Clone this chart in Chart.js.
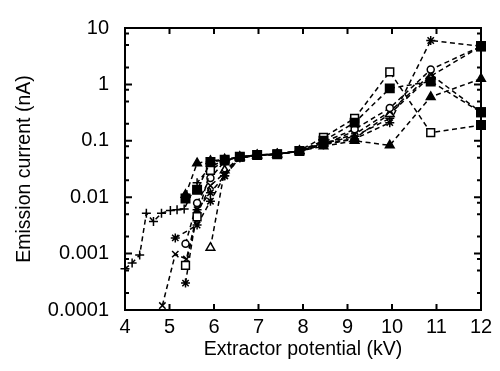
<!DOCTYPE html>
<html>
<head>
<meta charset="utf-8">
<script src="https://cdn.jsdelivr.net/npm/chart.js@4/dist/chart.umd.min.js"></script>
<style>
html,body{margin:0;padding:0;background:#fff;}
canvas{display:block;}
</style>
</head>
<body>
<canvas id="c" width="500" height="371"></canvas>
<script>
// ---- data ----
const xTickValues = [4, 5, 6, 7, 8, 9, 10, 11, 12];
const yTickValues = [0.0001, 0.001, 0.01, 0.1, 1, 10];
const yTickLabels = ['0.0001', '0.001', '0.01', '0.1', '1', '10'];

const filledSquareX = [5.36, 5.62, 5.92, 6.24, 6.58, 6.97, 7.42, 7.92, 8.46, 9.16, 9.95, 10.87, 12];
const filledSquareY = [0.0095, 0.0135, 0.042, 0.046, 0.052, 0.056, 0.058, 0.066, 0.1, 0.21, 0.85, 1.13, 0.32];

const filledTriangleX = [5.36, 5.62, 5.92, 6.24, 6.58, 6.97, 7.42, 7.92, 8.46, 9.16, 9.95, 10.87, 12];
const filledTriangleY = [0.011, 0.04, 0.044, 0.047, 0.052, 0.056, 0.058, 0.066, 0.08, 0.1, 0.083, 0.6, 1.26];

const openSquareX = [5.36, 5.62, 5.92, 6.24, 6.58, 6.97, 7.42, 7.92, 8.46, 9.16, 9.95, 10.87, 12];
const openSquareY = [0.00062, 0.0045, 0.03, 0.044, 0.052, 0.056, 0.058, 0.067, 0.115, 0.25, 1.67, 0.14, 0.19];

const circleX = [5.36, 5.62, 5.92, 6.24, 6.58, 6.97, 7.42, 7.92, 8.46, 9.16, 9.95, 10.87, 12];
const circleY = [0.0015, 0.0079, 0.022, 0.043, 0.052, 0.055, 0.058, 0.066, 0.095, 0.16, 0.38, 1.83, 4.75];

const starAX = [5.36, 5.62, 5.92, 6.24, 6.58, 6.97, 7.42, 7.92, 8.46, 9.16, 9.95, 10.87, 12];
const starAY = [0.0003, 0.006, 0.012, 0.024, 0.05, 0.055, 0.058, 0.065, 0.085, 0.108, 0.21, 6.0, 4.75];

const starBX = [5.13, 5.62, 5.92, 6.24, 6.58, 6.97, 7.42, 7.92, 8.46, 9.16];
const starBY = [0.0019, 0.0032, 0.0085, 0.024, 0.05, 0.055, 0.058, 0.065, 0.085, 0.15];

const crossX = [4.84, 5.13, 5.38, 5.62, 5.92, 6.24, 6.58, 6.97, 7.42, 7.92, 8.46, 9.16, 9.95, 10.87, 12];
const crossY = [0.00012, 0.00098, 0.0008, 0.005, 0.016, 0.027, 0.05, 0.055, 0.058, 0.066, 0.09, 0.13, 0.33, 1.5, 0.32];

const openTriangleX = [5.92, 6.24, 6.58, 6.97, 7.42, 7.92, 8.46, 9.16, 9.95, 10.87, 12];
const openTriangleY = [0.00127, 0.03, 0.05, 0.055, 0.058, 0.066, 0.088, 0.11, 0.3, 1.4, 4.75];

const plusX = [4.0, 4.16, 4.33, 4.48, 4.64, 4.82, 5.02, 5.17, 5.33, 5.62, 5.92, 6.24, 6.58, 6.97, 7.42, 7.92, 8.46, 9.16, 9.95];
const plusY = [0.00054, 0.00068, 0.00094, 0.0052, 0.0037, 0.0052, 0.0058, 0.006, 0.0062, 0.018, 0.035, 0.045, 0.052, 0.056, 0.058, 0.066, 0.09, 0.12, 0.25];

// ---- build datasets ----
function pts(xs, ys) { return xs.map((x, i) => ({ x: x, y: ys[i] })); }
// endSquare: the point at the right frame edge is drawn as a filled square, as in the reference
function ds(xs, ys, style, radius, fill, endSquare) {
  const last = xs.length - 1;
  const atEnd = i => endSquare && i === last && xs[i] === 12;
  return {
    data: pts(xs, ys),
    showLine: true,
    clip: false,
    borderColor: '#000',
    borderWidth: 1.5,
    borderDash: [5, 3.5],
    pointStyle: xs.map((_, i) => atEnd(i) ? 'rect' : style),
    pointRadius: xs.map((_, i) => atEnd(i) ? 6 : radius),
    pointBorderColor: '#000',
    pointBackgroundColor: xs.map((_, i) => atEnd(i) ? '#000' : fill),
    pointBorderWidth: 1.5,
    fill: false
  };
}
const FAMILY = '"Liberation Sans", Arial, Helvetica, sans-serif';
const TICKFONT = { family: FAMILY, size: 20 };
const TITLEFONT = { family: FAMILY, size: 19.5 };

const framePlugin = {
  id: 'frame',
  beforeDatasetsDraw(chart) {
    const { ctx, chartArea: a, scales: { x, y } } = chart;
    ctx.save();
    ctx.strokeStyle = '#000';
    ctx.lineWidth = 2;
    ctx.setLineDash([]);
    ctx.strokeRect(a.left, a.top, a.right - a.left, a.bottom - a.top);
    ctx.beginPath();
    xTickValues.forEach(v => {
      const px = x.getPixelForValue(v);
      ctx.moveTo(px, a.bottom); ctx.lineTo(px, a.bottom - 6);
      ctx.moveTo(px, a.top); ctx.lineTo(px, a.top + 6);
    });
    yTickValues.forEach((v, i) => {
      const py = y.getPixelForValue(v);
      ctx.moveTo(a.left, py); ctx.lineTo(a.left + 7, py);
      ctx.moveTo(a.right, py); ctx.lineTo(a.right - 7, py);
      if (i < yTickValues.length - 1) {
        [2, 5, 8].forEach(m => {
          const pm = y.getPixelForValue(v * m);
          ctx.moveTo(a.left, pm); ctx.lineTo(a.left + 4, pm);
          ctx.moveTo(a.right, pm); ctx.lineTo(a.right - 4, pm);
        });
      }
    });
    ctx.stroke();
    ctx.restore();
  }
};

new Chart(document.getElementById('c'), {
  type: 'scatter',
  data: {
    datasets: [
      ds(filledSquareX, filledSquareY, 'rect', 6, '#000', true),
      ds(filledTriangleX, filledTriangleY, 'triangle', 5, '#000', false),
      ds(openSquareX, openSquareY, 'rect', 5.5, '#fff', true),
      ds(circleX, circleY, 'circle', 3.5, '#fff', true),
      ds(starAX, starAY, 'star', 4.5, '#000', true),
      ds(starBX, starBY, 'star', 4.5, '#000', false),
      ds(crossX, crossY, 'crossRot', 4.5, '#000', true),
      ds(openTriangleX, openTriangleY, 'triangle', 5, '#fff', true),
      ds(plusX, plusY, 'cross', 4.5, '#000', false)
    ]
  },
  options: {
    responsive: false,
    animation: false,
    devicePixelRatio: 1,
    layout: { padding: { top: 16, right: 19, left: 0, bottom: 0 } },
    plugins: { legend: { display: false }, tooltip: { enabled: false } },
    scales: {
      x: {
        type: 'linear', min: 4, max: 12,
        afterBuildTicks: s => { s.ticks = xTickValues.map(v => ({ value: v })); },
        afterFit: s => { s.height = 61; },
        grid: { display: false, drawTicks: false },
        border: { display: false },
        ticks: { color: '#000', font: TICKFONT, padding: 5, maxRotation: 0, autoSkip: false, callback: v => String(v) },
        title: { display: true, text: 'Extractor potential (kV)', color: '#000', font: TITLEFONT, padding: { top: 0, bottom: 10 } }
      },
      y: {
        type: 'logarithmic', min: 0.0001, max: 10,
        afterBuildTicks: s => { s.ticks = yTickValues.map(v => ({ value: v })); },
        afterFit: s => { s.width = 125; },
        grid: { display: false, drawTicks: false },
        border: { display: false },
        ticks: { color: '#000', font: TICKFONT, padding: 16, autoSkip: false, callback: (v, i) => yTickLabels[i] },
        title: { display: true, text: 'Emission current (nA)', color: '#000', font: TITLEFONT, padding: { top: 13, bottom: 0 } }
      }
    }
  },
  plugins: [framePlugin]
});
</script>
</body>
</html>
